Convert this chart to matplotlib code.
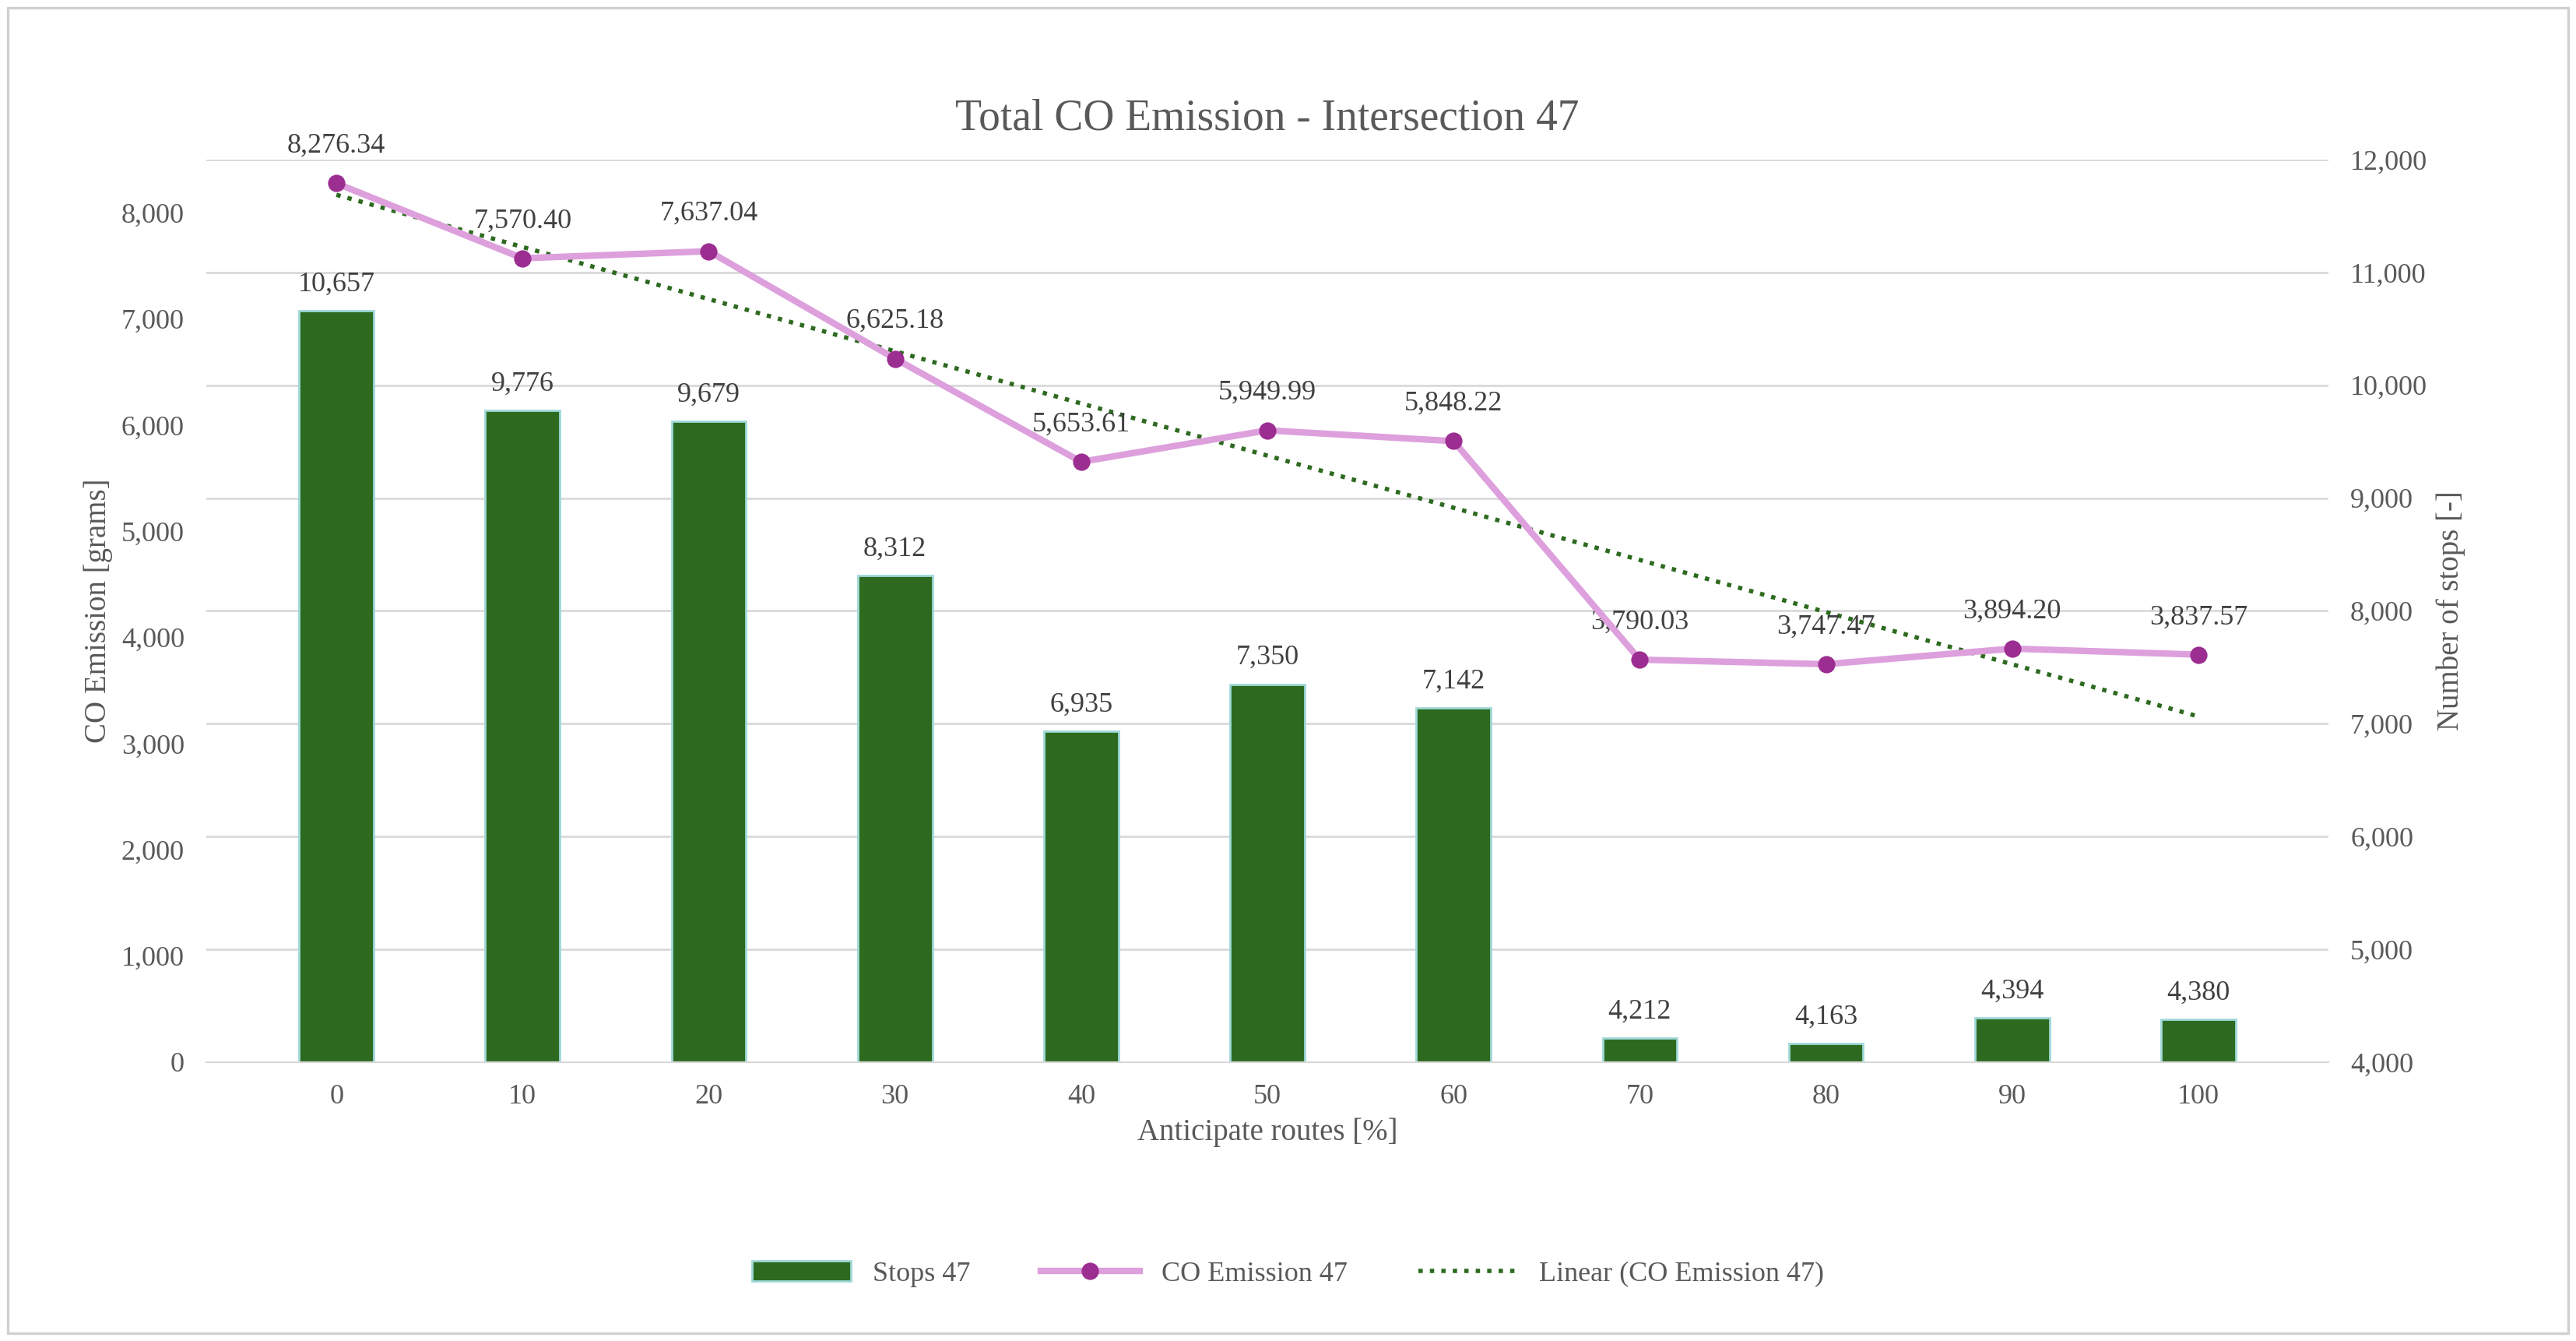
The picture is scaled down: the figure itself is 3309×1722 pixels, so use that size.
import numpy as np
import matplotlib.pyplot as plt
from matplotlib.patches import Rectangle

plt.rcParams['font.family'] = 'Liberation Serif'

routes = [0, 10, 20, 30, 40, 50, 60, 70, 80, 90, 100]
stops = [10657, 9776, 9679, 8312, 6935, 7350, 7142, 4212, 4163, 4394, 4380]
co = [8276.34, 7570.40, 7637.04, 6625.18, 5653.61, 5949.99, 5848.22,
      3790.03, 3747.47, 3894.20, 3837.57]

x = np.arange(len(routes))

fig = plt.figure(figsize=(16.545, 8.61), dpi=200)
fig.patches.append(Rectangle((0.003, 0.006), 0.994, 0.988, transform=fig.transFigure,
                             fill=False, edgecolor='#d0d0d0', linewidth=1.2))
ax = fig.add_axes([0.08, 0.208, 0.824, 0.673])
ax2 = ax.twinx()

# bars on the secondary axis, line on the primary
ax2.bar(x, np.array(stops) - 4000, bottom=4000, width=0.4, color='#2d6a1f',
        edgecolor='#9fd8d8', linewidth=1, label='Stops 47', zorder=2)
for xi, s in zip(x, stops):
    ax2.text(xi, s + 120, f'{s:,}', ha='center', va='bottom', fontsize=13, color='#404040')
ax2.set_ylim(4000, 12000)
ax2.set_yticks(range(4000, 12001, 1000))
ax2.set_yticklabels([f'{v:,}' for v in range(4000, 12001, 1000)])
ax2.set_ylabel('Number of stops [-]', fontsize=14, color='#595959')

ax.set_zorder(ax2.get_zorder() + 1)
ax.patch.set_visible(False)
ax.plot(x, co, color='#dda0dd', linewidth=3, marker='o', markersize=7,
        markerfacecolor='#9c2d91', markeredgecolor='#9c2d91', label='CO Emission 47', zorder=4)
k, b = np.polyfit(x, co, 1)
ax.plot(x, k * x + b, color='#2d6a1f', linestyle=':', linewidth=2,
        label='Linear (CO Emission 47)', zorder=3)
for xi, c in zip(x, co):
    ax.text(xi, c + 230, f'{c:,.2f}', ha='center', va='bottom', fontsize=13, color='#404040')
ax.set_ylim(0, 8500)
ax.set_yticks(range(0, 8001, 1000))
ax.set_yticklabels([f'{v:,}' for v in range(0, 8001, 1000)])
ax.set_ylabel('CO Emission [grams]', fontsize=14, color='#595959')
ax.set_xlim(-0.7, 10.7)
ax.set_xticks(x)
ax.set_xticklabels([str(r) for r in routes])
ax.set_xlabel('Anticipate routes [%]', fontsize=14, color='#595959')
ax.set_title('Total CO Emission - Intersection 47', fontsize=20, color='#595959', pad=14)

ax2.grid(axis='y', color='#d9d9d9', linewidth=1)
ax2.set_axisbelow(True)
for a in (ax, ax2):
    for sp in a.spines.values():
        sp.set_visible(False)
    a.tick_params(length=0, labelsize=13, colors='#595959', pad=10)
ax.spines['bottom'].set_visible(True)
ax.spines['bottom'].set_color('#d9d9d9')

h1, l1 = ax2.get_legend_handles_labels()
h2, l2 = ax.get_legend_handles_labels()
fig.legend(h1 + h2, l1 + l2, loc='center', bbox_to_anchor=(0.5, 0.05), ncol=3,
           frameon=False, fontsize=13, handlelength=3.5, columnspacing=2.5,
           labelcolor='#595959')

fig.savefig('out.png')
